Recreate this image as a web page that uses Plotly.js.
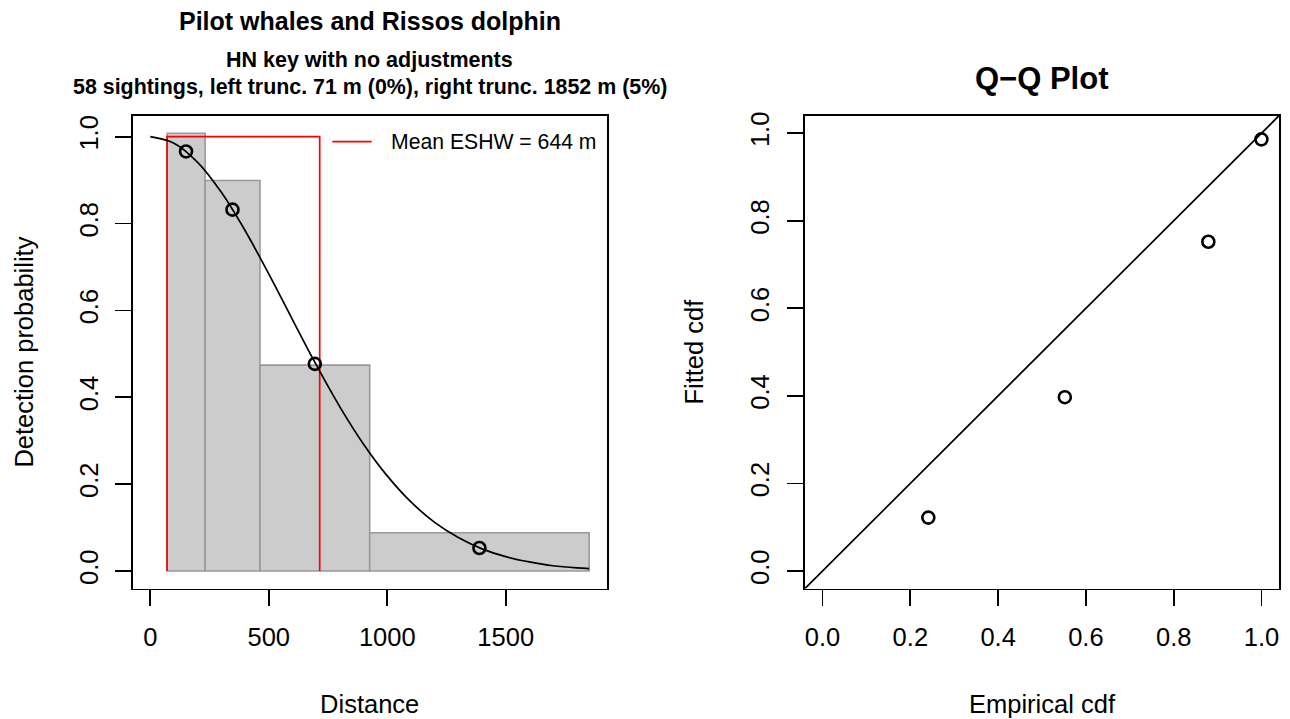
<!DOCTYPE html>
<html>
<head>
<meta charset="utf-8">
<script src="https://cdn.plot.ly/plotly-3.0.1.min.js"></script>
<style>html,body{margin:0;padding:0;background:#fff;}#chart{width:1290px;height:719px;}</style>
</head>
<body>
<div id="chart"></div>
<script>
// ---- data ----
const breaks = [71, 231.5, 463, 926, 1852];
const barHeights = [1.008, 0.899, 0.474, 0.088];
const curveX = [0, 100, 200, 300, 400, 500, 600, 700, 800, 900, 1000, 1100, 1200, 1300, 1400, 1500, 1600, 1700, 1800, 1852];
const curveY = [1.000, 0.985, 0.941, 0.872, 0.784, 0.684, 0.579, 0.475, 0.378, 0.292, 0.219, 0.159, 0.112, 0.077, 0.051, 0.033, 0.021, 0.012, 0.007, 0.0055];
const pointX = [151, 347, 694.5, 1389];
const pointY = [0.966, 0.832, 0.477, 0.053];
const leftTrunc = 71;
const eshw = 644;
const qqEmpirical = [0.241, 0.552, 0.879, 1.0];
const qqFitted = [0.122, 0.397, 0.752, 0.986];
const xTicksLeft = [0, 500, 1000, 1500];
const yTicks = [0, 0.2, 0.4, 0.6, 0.8, 1.0];
const yTickText = ["0.0", "0.2", "0.4", "0.6", "0.8", "1.0"];

const FONT = "Liberation Sans, Arial, Helvetica, sans-serif";
const W = 1290, H = 719;
const px = v => v / W;
const py = v => 1 - v / H;

// derived
const barX = barHeights.map((_, i) => (breaks[i] + breaks[i + 1]) / 2);
const barW = barHeights.map((_, i) => breaks[i + 1] - breaks[i]);
const rectX = [leftTrunc, leftTrunc, leftTrunc + eshw, leftTrunc + eshw];
const rectY = [0, 1, 1, 0];

const xRangeLeft = [0 - 0.04 * 1852, 1852 + 0.04 * 1852];
const yRangeLeft = [0 - 0.04 * 1.008, 1.008 + 0.04 * 1.008];
const qqRange = [-0.04, 1.04];

const traces = [
  {type: 'bar', x: barX, y: barHeights, width: barW, xaxis: 'x', yaxis: 'y',
   marker: {color: '#cccccc', line: {color: '#999999', width: 1.6}}, showlegend: false, hoverinfo: 'skip'},
  {type: 'scatter', mode: 'lines', x: rectX, y: rectY, xaxis: 'x', yaxis: 'y',
   line: {color: '#ff0000', width: 1.7}, showlegend: false, name: 'Mean ESHW = ' + eshw + ' m'},
  {type: 'scatter', mode: 'lines', x: curveX, y: curveY, xaxis: 'x', yaxis: 'y',
   line: {color: '#000000', width: 1.7, shape: 'spline', smoothing: 1}, showlegend: false},
  {type: 'scatter', mode: 'markers', x: pointX, y: pointY, xaxis: 'x', yaxis: 'y',
   marker: {symbol: 'circle-open', size: 12, color: '#000000', line: {width: 2.6, color: '#000000'}}, showlegend: false},
  {type: 'scatter', mode: 'lines', x: qqRange, y: qqRange, xaxis: 'x2', yaxis: 'y2',
   line: {color: '#000000', width: 1.7}, showlegend: false, cliponaxis: true},
  {type: 'scatter', mode: 'markers', x: qqEmpirical, y: qqFitted, xaxis: 'x2', yaxis: 'y2',
   marker: {symbol: 'circle-open', size: 12, color: '#000000', line: {width: 2.6, color: '#000000'}}, showlegend: false}
];

const axisCommon = {
  showgrid: false, zeroline: false, showline: true, mirror: true,
  linecolor: '#000000', linewidth: 1.8,
  ticks: 'outside', ticklen: 16, tickwidth: 1.7, tickcolor: '#000000',
  tickfont: {family: FONT, size: 25.5, color: '#000000'},
  fixedrange: true
};

const layout = {
  width: W, height: H,
  margin: {l: 0, r: 0, t: 0, b: 0},
  paper_bgcolor: '#ffffff', plot_bgcolor: '#ffffff',
  font: {family: FONT, color: '#000000'},
  showlegend: false,
  bargap: 0,
  xaxis: Object.assign({}, axisCommon, {
    domain: [px(132.7), px(606.7)], range: xRangeLeft, tickvals: xTicksLeft,
    ticklabelstandoff: 9,
    title: {text: 'Distance', font: {family: FONT, size: 25.5, color: '#000'}, standoff: 45}
  }),
  yaxis: Object.assign({}, axisCommon, {
    domain: [py(588.5), py(115.7)], range: yRangeLeft, tickvals: yTicks, ticktext: yTickText,
    tickangle: -90, ticklabelstandoff: 7,
    title: {text: 'Detection probability', font: {family: FONT, size: 25.5, color: '#000'}, standoff: 34}
  }),
  xaxis2: Object.assign({}, axisCommon, {
    domain: [px(805), px(1279)], range: qqRange, tickvals: yTicks, ticktext: yTickText, anchor: 'y2',
    ticklabelstandoff: 9,
    title: {text: 'Empirical cdf', font: {family: FONT, size: 25.5, color: '#000'}, standoff: 45}
  }),
  yaxis2: Object.assign({}, axisCommon, {
    domain: [py(588.5), py(115.7)], range: qqRange, tickvals: yTicks, ticktext: yTickText, anchor: 'x2',
    tickangle: -90, ticklabelstandoff: 8,
    title: {text: 'Fitted cdf', font: {family: FONT, size: 25.5, color: '#000'}, standoff: 35}
  }),
  shapes: [
    {type: 'line', xref: 'paper', yref: 'paper', x0: px(332.3), x1: px(371.7), y0: py(141.7), y1: py(141.7),
     line: {color: '#ff0000', width: 1.7}}
  ],
  annotations: [
    {text: '<b>Pilot whales and Rissos dolphin</b>', xref: 'paper', yref: 'paper', x: px(369.7), y: py(21),
     xanchor: 'center', yanchor: 'middle', showarrow: false, font: {family: FONT, size: 25, color: '#000'}},
    {text: '<b>HN key with no adjustments</b>', xref: 'paper', yref: 'paper', x: px(369.7), y: py(60),
     xanchor: 'center', yanchor: 'middle', showarrow: false, font: {family: FONT, size: 21.5, color: '#000'}},
    {text: '<b>58 sightings, left trunc. 71 m (0%), right trunc. 1852 m (5%)</b>', xref: 'paper', yref: 'paper', x: px(369.7), y: py(87),
     xanchor: 'center', yanchor: 'middle', showarrow: false, font: {family: FONT, size: 21.4, color: '#000'}},
    {text: '<b>Q\u2212Q Plot</b>', xref: 'paper', yref: 'paper', x: px(1042), y: py(79),
     xanchor: 'center', yanchor: 'middle', showarrow: false, font: {family: FONT, size: 31, color: '#000'}},
    {text: 'Mean ESHW = ' + eshw + ' m', xref: 'paper', yref: 'paper', x: px(389), y: py(141.7),
     xanchor: 'left', yanchor: 'middle', showarrow: false, font: {family: FONT, size: 21.2, color: '#000'}}
  ]
};

Plotly.newPlot('chart', traces, layout, {staticPlot: true, displayModeBar: false});
</script>
</body>
</html>
